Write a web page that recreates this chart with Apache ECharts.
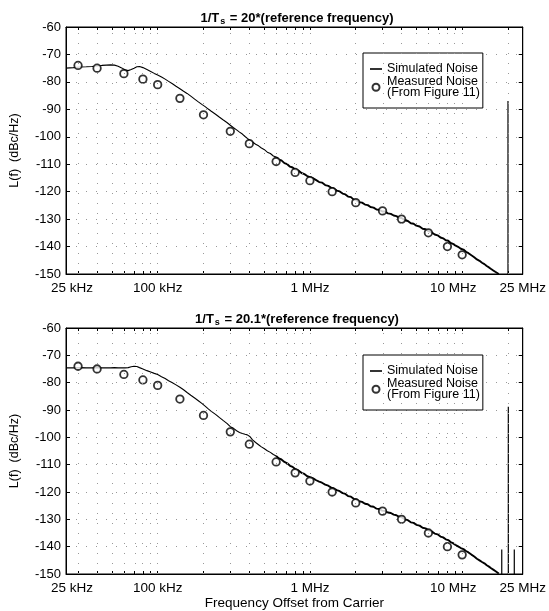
<!DOCTYPE html>
<html><head><meta charset="utf-8">
<script src="https://cdn.jsdelivr.net/npm/echarts@6/dist/echarts.min.js"></script>
<style>html,body{margin:0;padding:0;background:#fff}#c{width:549px;height:611px}</style>
</head><body><div id="c"></div>
<script>
// ---- data ----
const tickFreqs = [25000, 100000, 1000000, 10000000, 25000000];
const tickLabels = ['25 kHz', '100 kHz', '1 MHz', '10 MHz', '25 MHz'];
const minorFreqs = [30000, 40000, 50000, 60000, 70000, 80000, 90000, 100000,
  200000, 300000, 400000, 500000, 600000, 700000, 800000, 900000, 1000000,
  2000000, 3000000, 4000000, 5000000, 6000000, 7000000, 8000000, 9000000, 10000000, 20000000];
const yMin = -150, yMax = -60, yStep = 10;

const titles = ['20', '20.1'];

// measured noise (same in both panels)
const measFreq = [30e3, 40e3, 60e3, 80e3, 100e3, 140e3, 200e3, 300e3, 400e3, 600e3, 800e3,
  1e6, 1.4e6, 2e6, 3e6, 4e6, 6e6, 8e6, 10e6];
const measVal = [-74, -75, -77, -79, -81, -86, -92, -98, -102.5, -109, -113,
  -116, -120, -124, -127, -130, -135, -140, -143];

// simulated noise (kHz grid shared by both panels)
const simFreqK = [25, 28, 31, 34, 37, 40, 43, 46, 49, 52, 55, 58, 61, 64, 67, 70, 73, 76, 80, 85, 90, 95, 100,
  106, 112, 118, 125, 132, 140, 148, 156, 165, 175, 185, 195, 205, 215, 225, 240, 255, 270, 285, 292, 300,
  315, 330, 345, 360, 375, 388, 396, 405, 420, 440, 460, 480, 500, 525, 550, 575, 600, 625, 650, 680, 710,
  740, 770, 800, 840, 880, 920, 960, 1000,
  1050, 1100, 1150, 1200, 1260, 1320, 1380, 1440, 1500, 1570, 1640, 1710, 1780, 1860, 1940, 2020, 2100,
  2200, 2300, 2400, 2500, 2620, 2740, 2860, 2980, 3100, 3250, 3400, 3550, 3700, 3850, 4000, 4200, 4400,
  4600, 4800, 5000, 5250, 5500, 5750, 6000, 6300, 6600, 6900, 7200, 7500, 7800, 8100, 8400, 8700, 9000,
  9400, 9800, 10200, 10600, 11000, 11500, 12000, 12500, 13000, 13500, 14000, 14500, 15000, 15500, 16000,
  16500, 17000, 17400];
const simTop = [-75.0, -74.8, -74.6, -74.5, -74.4, -74.2, -74.0, -73.9, -73.8, -73.9, -74.3, -74.9, -75.6,
  -75.9, -75.5, -75.0, -74.5, -74.4, -74.8, -75.5, -76.2, -76.9, -77.5,
  -78.2, -79.0, -79.8, -80.7, -81.6, -82.5, -83.4, -84.2, -85.2, -86.3, -87.3, -88.2, -89.0, -89.9, -90.7,
  -91.8, -92.9, -93.9, -94.8, -94.4, -95.8, -96.7, -97.5, -98.3, -99.0, -99.9, -100.6, -99.9, -101.3,
  -101.9, -102.7, -103.3, -104.1, -104.6, -105.6, -106.1, -107.0, -107.4, -108.3, -108.6, -109.6, -110.0,
  -110.9, -111.2, -111.9, -112.3, -113.2, -113.6, -114.3, -114.7,
  -115.1, -115.8, -116.5, -116.7, -117.6, -117.9, -118.6, -118.8, -119.6, -119.9, -120.7, -121.0, -121.8,
  -122.0, -122.9, -123.1, -123.8, -124.0, -124.7, -124.9, -125.6, -125.8, -126.5, -126.6, -127.2, -127.2,
  -127.9, -128.1, -128.7, -128.9, -129.5, -129.6, -130.4, -130.7, -131.5, -131.7, -132.4, -132.7, -133.5,
  -133.7, -134.4, -134.8, -135.6, -135.9, -136.7, -137.0, -137.7, -137.9, -138.7, -139.0, -139.6, -140.1,
  -140.8, -141.1, -141.9, -142.4, -143.2, -143.9, -144.7, -145.2, -145.9, -146.4, -147.1, -147.6, -148.2,
  -148.7, -149.2, -149.7, -150.0];
const simBot = [-74.6, -74.6, -74.5, -74.6, -74.6, -74.5, -74.6, -74.6, -74.6, -74.5, -74.6, -74.6, -74.6,
  -74.5, -74.2, -74.0, -74.1, -74.5, -75.0, -75.6, -76.1, -76.6, -77.0,
  -77.8, -78.5, -79.3, -80.0, -80.8, -81.7, -82.6, -83.6, -84.6, -85.6, -86.6, -87.6, -88.6, -89.6, -90.5,
  -91.6, -92.8, -93.9, -94.9, -95.3, -96.1, -96.7, -97.6, -98.2, -98.6, -98.9, -99.1, -99.0, -99.8,
  -100.9, -101.9, -102.7, -103.5, -104.1, -104.9, -105.5, -106.3, -106.8, -107.7, -108.1, -109.0, -109.5,
  -110.4, -110.8, -111.6, -112.1, -113.0, -113.4, -114.2, -114.6,
  -115.0, -115.7, -116.2, -116.6, -117.3, -117.7, -118.4, -118.7, -119.3, -119.7, -120.4, -120.7, -121.5,
  -121.7, -122.5, -122.7, -123.4, -123.6, -124.3, -124.5, -125.2, -125.4, -126.1, -126.2, -126.8, -126.9,
  -127.5, -127.7, -128.3, -128.5, -129.1, -129.2, -130.0, -130.3, -131.1, -131.3, -132.0, -132.3, -133.1,
  -133.3, -134.0, -134.4, -135.2, -135.5, -136.3, -136.6, -137.3, -137.6, -138.3, -138.7, -139.3, -139.9,
  -140.5, -140.9, -141.6, -142.1, -142.9, -143.6, -144.4, -145.0, -145.6, -146.1, -146.8, -147.3, -147.9,
  -148.4, -148.9, -149.4, -149.8];
const thickFromK = 600; // the simulated trace is noisier (heavier) above this offset

// spurs (vertical lines from the floor)
const spurTopFreq = [20.0e6];
const spurTopVal = [-87];
const spurBotFreq = [18.2e6, 20.1e6, 22.0e6];
const spurBotVal = [-141, -88.8, -141];

// ---- helpers ----
const lg = Math.log10;
const FONT = 'Liberation Sans, Arial, sans-serif';
const xMin = lg(tickFreqs[0]), xMax = lg(tickFreqs[tickFreqs.length - 1]);
const tickLogs = tickFreqs.map(lg);
const minorLogs = minorFreqs.map(lg);
const labelFmt = v => {
  const i = tickLogs.findIndex(t => Math.abs(t - v) < 1e-6);
  if (i < 0) return '';
  const k = ['a', 'b', 'c', 'd', 'e'][i];
  return '{' + k + '|' + tickLabels[i] + '}';
};
const labelRich = {
  a: {padding: [0, 0, 0, 12]}, b: {}, c: {}, d: {padding: [0, 18, 0, 0]}, e: {}
};

const panels = [
  {top: 27, left: 65, width: 461, height: 247, sim: simTop, spF: spurTopFreq, spV: spurTopVal, legTop: 53, titleTop: 6},
  {top: 328, left: 66, width: 460, height: 246, sim: simBot, spF: spurBotFreq, spV: spurBotVal, legTop: 355, titleTop: 307}
];

const grid = [], xAxis = [], yAxis = [], series = [], legend = [], title = [];
panels.forEach((p, gi) => {
  grid.push({left: p.left, top: p.top, width: p.width, height: p.height, show: true,
    borderColor: '#000', borderWidth: 1, backgroundColor: 'transparent'});
  title.push({
    text: '{a|1/T}{s|s}{a| = ' + titles[gi] + '*(reference frequency)}',
    left: 292, top: p.titleTop, textAlign: 'center',
    textStyle: {rich: {
      a: {fontFamily: FONT, fontSize: 13, fontWeight: 'bold', color: '#000'},
      s: {fontFamily: FONT, fontSize: 9, fontWeight: 'bold', color: '#000', padding: [6, 1, 0, 1]}
    }}
  });
  const xCommon = {
    type: 'value', gridIndex: gi, min: xMin, max: xMax,
    axisLine: {show: true, lineStyle: {color: '#000', width: 1}},
    splitLine: {show: false}
  };
  xAxis.push(Object.assign({}, xCommon, {
    position: 'bottom',
    axisTick: {show: true, inside: true, length: 3, customValues: minorLogs, lineStyle: {color: '#000'}},
    axisLabel: {show: true, customValues: tickLogs, formatter: labelFmt, rich: labelRich,
      fontFamily: FONT, fontSize: 13.5, color: '#000', margin: 7},
    name: gi === 1 ? 'Frequency Offset from Carrier' : '',
    nameLocation: 'middle', nameGap: 22,
    nameTextStyle: {fontFamily: FONT, fontSize: 13.5, color: '#000'}
  }));
  xAxis.push(Object.assign({}, xCommon, {
    position: 'top',
    axisTick: {show: true, inside: true, length: 3, customValues: minorLogs, lineStyle: {color: '#000'}},
    axisLabel: {show: false}
  }));
  const yCommon = {
    type: 'value', gridIndex: gi, min: yMin, max: yMax, interval: yStep,
    axisLine: {show: true, lineStyle: {color: '#000', width: 1}},
    axisTick: {show: true, inside: true, length: 4, lineStyle: {color: '#000'}}
  };
  yAxis.push(Object.assign({}, yCommon, {
    position: 'left',
    axisLabel: {fontFamily: FONT, fontSize: 13, color: '#000', margin: 5},
    splitLine: {show: true, lineStyle: {color: '#999', width: 1, type: [1, 9]}},
    name: 'L(f)  (dBc/Hz)', nameLocation: 'middle', nameGap: 45,
    nameTextStyle: {fontFamily: FONT, fontSize: 12.5, color: '#000'}
  }));
  yAxis.push(Object.assign({}, yCommon, {
    position: 'right', axisLabel: {show: false}, splitLine: {show: false}
  }));
  const xi = gi * 2, yi = gi * 2;
  // spur lines (with vertical dotted grid as markLine)
  p.spF.forEach((f, k) => {
    series.push({
      type: 'line', name: 'spur' + gi + k, xAxisIndex: xi, yAxisIndex: yi, z: 1,
      data: [[lg(f), yMin], [lg(f), p.spV[k]]], symbol: 'none',
      lineStyle: {color: '#000', width: 1.2}, animation: false, silent: true,
      markLine: k === 0 ? {
        symbol: ['none', 'none'], silent: true, animation: false, label: {show: false},
        lineStyle: {color: '#999', width: 1, type: [1, 9]},
        data: minorLogs.map(v => ({xAxis: v}))
      } : undefined
    });
  });
  const pts = simFreqK.map((f, i) => [lg(f * 1000), p.sim[i]]);
  const cut = simFreqK.indexOf(thickFromK);
  series.push({
    type: 'line', name: 'Simulated Noise', xAxisIndex: xi, yAxisIndex: yi, z: 3,
    data: pts.slice(0, cut + 1),
    symbol: 'none', showSymbol: false, itemStyle: {color: '#000'},
    lineStyle: {color: '#000', width: 1.1}, animation: false
  });
  series.push({
    type: 'line', name: 'Simulated Noise', xAxisIndex: xi, yAxisIndex: yi, z: 3,
    data: pts.slice(cut),
    symbol: 'none', showSymbol: false, itemStyle: {color: '#000'},
    lineStyle: {color: '#000', width: 1.9}, animation: false
  });
  series.push({
    type: 'scatter', name: 'Measured Noise', xAxisIndex: xi, yAxisIndex: yi, z: 4,
    data: measFreq.map((f, i) => [lg(f), measVal[i]]),
    symbol: 'circle', symbolSize: 7.5,
    itemStyle: {color: '#fff', borderColor: '#000', borderWidth: 1.8}, animation: false
  });
  legend.push({
    orient: 'vertical', left: 363, top: p.legTop,
    data: [
      {name: 'Simulated Noise', icon: 'path://M0,0L12,0L12,1.6L0,1.6Z',
       itemStyle: {color: '#000', borderWidth: 0}},
      {name: 'Measured Noise'}
    ],
    formatter: n => n === 'Measured Noise' ? 'Measured Noise\n(From Figure 11)' : n,
    itemWidth: 12, itemHeight: 7, itemGap: 0,
    padding: [9.5, 3, 9, 7],
    borderColor: '#000', borderWidth: 1, backgroundColor: '#fff',
    textStyle: {fontFamily: FONT, fontSize: 12.5, color: '#000', lineHeight: 10.5},
    selectedMode: false
  });
});

const chart = echarts.init(document.getElementById('c'), null, {renderer: 'canvas'});
chart.setOption({backgroundColor: '#fff', animation: false, title, grid, xAxis, yAxis, series, legend});
</script></body></html>
